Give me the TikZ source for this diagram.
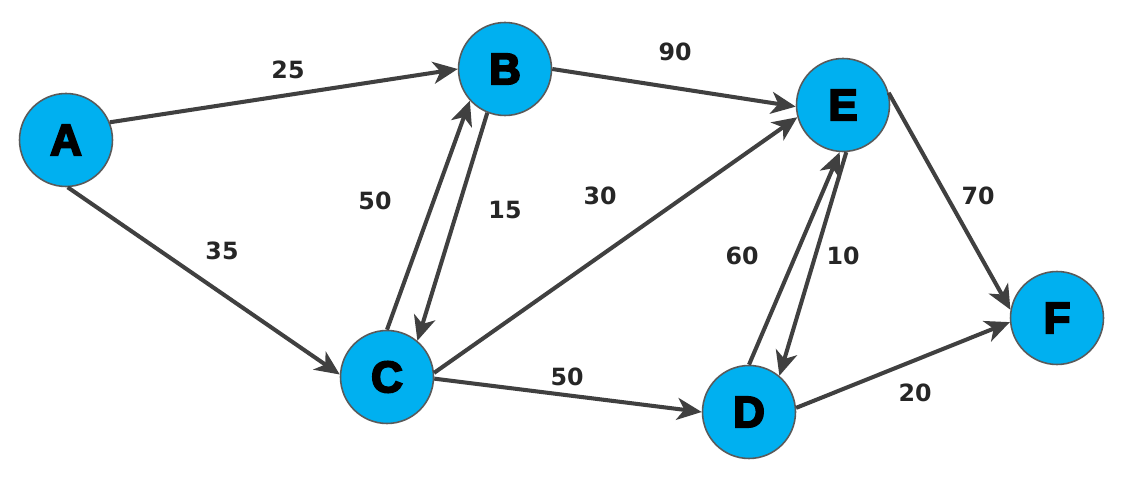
\documentclass[tikz,border=0pt]{standalone}
\usepackage{fontspec}
\newfontfamily\nodefont{Liberation Sans}[FakeBold=4.5]
\newfontfamily\labfont{DejaVu Sans}
\usetikzlibrary{arrows.meta}
\definecolor{nodefill}{RGB}{0,176,240}
\definecolor{edgecol}{RGB}{64,64,64}
\definecolor{rimcol}{RGB}{90,90,90}
\begin{document}
\begin{tikzpicture}[x=0.02cm,y=-0.02cm,
  vertex/.style={circle,fill=nodefill,draw=rimcol,line width=0.9pt,minimum size=1.86cm,inner sep=0pt,font=\nodefont\bfseries\fontsize{25}{25}\selectfont},
  edge/.style={draw=edgecol,line width=2.3pt,-{Stealth[length=14pt,width=12.5pt,inset=4pt]}},
  wlabel/.style={font=\labfont\bfseries\fontsize{13.5}{14}\selectfont,text=black!85}]
\useasboundingbox (0,0) rectangle (1130,482);
\node[vertex] (A) at (66,140) {A};
\node[vertex] (B) at (505,69) {B};
\node[vertex] (C) at (387,377) {C};
\node[vertex] (D) at (749,412) {D};
\node[vertex] (E) at (843,105) {E};
\node[vertex] (F) at (1057,318) {F};
\draw[edge] (A.22) -- (B.west);
\draw[edge] (A.272) -- (C.177);
\draw[edge] (B.east) -- (E.182);
\draw[edge] (C.north) -- (B.222);
\draw[edge] (B.248) -- (C.50);
\draw[edge] (C.5) -- (E.195);
\draw[edge] (C.358) -- (D.180);
\draw[edge] (D.north) -- (E.266);
\draw[edge] (E.274) -- (D.50);
\draw[edge] (E.15) -- (F.170);
\draw[edge] (D.5) -- (F.185);
\node[wlabel] (l1) at (288,70) {25};
\node[wlabel] (l2) at (675,52) {90};
\node[wlabel] (l3) at (222,251) {35};
\node[wlabel] (l4) at (375,201) {50};
\node[wlabel] (l5) at (505,210) {15};
\node[wlabel] (l6) at (600,196) {30};
\node[wlabel] (l7) at (742,256) {60};
\node[wlabel] (l8) at (843,256) {10};
\node[wlabel] (l9) at (978,196) {70};
\node[wlabel] (l10) at (567,377) {50};
\node[wlabel] (l11) at (915,393) {20};
\end{tikzpicture}
\end{document}
